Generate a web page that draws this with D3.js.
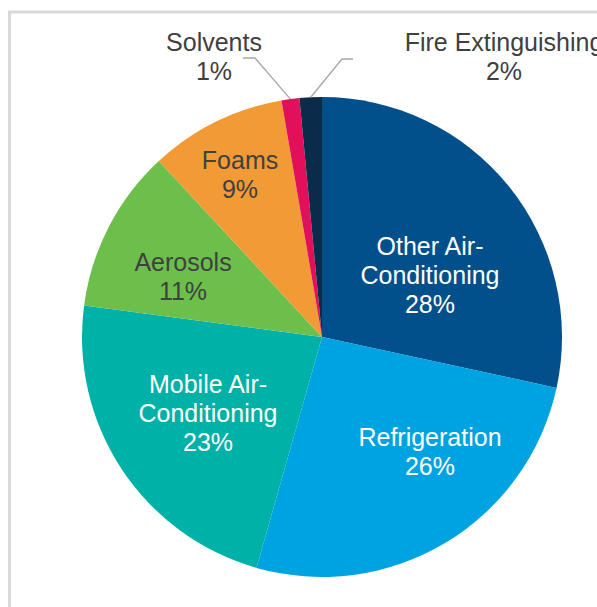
<!DOCTYPE html>
<html lang="en">
<head>
	<meta charset="utf-8" />
	<title>Emissions by sector</title>
	<style type="text/css">
		body { margin: 0; background: #fff; }
		svg { display: block; font-family: "Liberation Sans", Arial, sans-serif; }
	</style>
</head>
<body>
	<div id="graph"></div>
	<script src="https://cdn.jsdelivr.net/npm/d3@7"></script>
	<script type="text/javascript">
		// data, clockwise from 12 o'clock
		var categories = ["Other Air-Conditioning", "Refrigeration", "Mobile Air-Conditioning", "Aerosols", "Foams", "Solvents", "Fire Extinguishing"];
		var shares = [28.4, 26.0, 22.7, 11.0, 9.2, 1.2, 1.5];
		var labelLines = [["Other Air-", "Conditioning"], ["Refrigeration"], ["Mobile Air-", "Conditioning"], ["Aerosols"], ["Foams"], ["Solvents"], ["Fire Extinguishing"]];
		var pctLabels = ["28%", "26%", "23%", "11%", "9%", "1%", "2%"];

		var colours = ["#01508c", "#00a3e1", "#00b1a7", "#6cbf4a", "#f29a35", "#e2105b", "#0b2b4b"];
		var textColours = ["#fff", "#fff", "#fff", "#404040", "#404040", "#404040", "#404040"];

		let CHART_WIDTH = 597;
		let CHART_HEIGHT = 607;
		var cx = 322, cy = 337, radius = 240;
		var fontSize = 25, lineGap = 29;

		// label anchor (centre of text block) relative to pie centre
		var labelPos = [[108, -62], [108, 115], [-114, 76], [-139, -60], [-82, -162], [-108, -280], [182, -280]];
		// leader elbow for outside labels
		var elbowPos = {5: [[-79, -279], [-67, -279]], 6: [[31, -278], [20, -278]]};

		var svg = d3.select("#graph").append("svg")
			.attr("width", CHART_WIDTH)
			.attr("height", CHART_HEIGHT);

		svg.append("rect")
			.attr("x", 9.5).attr("y", 12)
			.attr("width", 700).attr("height", 700)
			.attr("fill", "none")
			.attr("stroke", "#d9d9d9")
			.attr("stroke-width", 3);

		var data = categories.map(function(c, i) { return {name: c, value: shares[i], i: i}; });

		var pie = d3.pie().sort(null).value(d => d.value);
		var arc = d3.arc().innerRadius(0).outerRadius(radius);
		var arcs = pie(data);

		var g = svg.append("g").attr("transform", "translate(" + cx + "," + cy + ")");

		g.selectAll("path.slice")
			.data(arcs)
			.enter()
			.append("path")
			.attr("class", "slice")
			.attr("d", arc)
			.attr("fill", d => colours[d.data.i]);

		// leader lines for the thin slices
		arcs.forEach(function(d) {
			var el = elbowPos[d.data.i];
			if (!el) return;
			var mid = (d.startAngle + d.endAngle) / 2;
			var p0 = [Math.sin(mid) * radius, -Math.cos(mid) * radius];
			g.append("polyline")
				.attr("points", [p0, el[1], el[0]].map(p => p.join(",")).join(" "))
				.attr("fill", "none")
				.attr("stroke", "#a6a6a6")
				.attr("stroke-width", 1.3);
		});

		var labels = g.selectAll("text.lbl")
			.data(arcs)
			.enter()
			.append("text")
			.attr("class", "lbl")
			.attr("text-anchor", "middle")
			.attr("font-size", fontSize)
			.attr("fill", d => textColours[d.data.i]);

		labels.each(function(d) {
			var t = d3.select(this);
			var lines = labelLines[d.data.i].concat([pctLabels[d.data.i]]);
			var pos = labelPos[d.data.i];
			var top = pos[1] - (lines.length - 1) * lineGap / 2;
			lines.forEach(function(s, k) {
				t.append("tspan")
					.attr("x", pos[0])
					.attr("y", top + k * lineGap)
					.attr("dy", "0.35em")
					.text(s);
			});
		});
	</script>
</body>
</html>
